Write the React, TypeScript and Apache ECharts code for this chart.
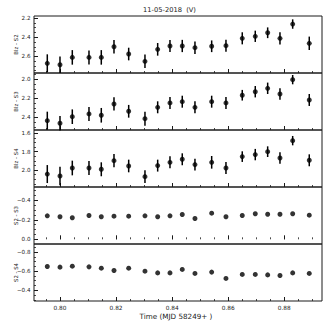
import React, { useEffect, useRef } from "react";
import * as echarts from "echarts";

// ---- data ----
const times = [
  0.79547, 0.8, 0.80439, 0.81034, 0.81473, 0.81926, 0.8245, 0.83031, 0.83484, 0.83923,
  0.84361, 0.84814, 0.8541, 0.8592, 0.86501, 0.86965, 0.87407, 0.87846, 0.88299, 0.88891,
];
const blzS2 = [2.673, 2.688, 2.611, 2.611, 2.611, 2.5, 2.576, 2.652, 2.527, 2.492, 2.492, 2.51, 2.495, 2.489, 2.412, 2.391, 2.354, 2.412, 2.263, 2.464];
const errS2 = [0.094, 0.087, 0.076, 0.073, 0.076, 0.07, 0.066, 0.07, 0.066, 0.063, 0.064, 0.066, 0.061, 0.063, 0.063, 0.059, 0.056, 0.064, 0.049, 0.07];
const blzS3 = [2.436, 2.463, 2.394, 2.365, 2.379, 2.26, 2.337, 2.415, 2.295, 2.249, 2.236, 2.295, 2.236, 2.249, 2.168, 2.131, 2.095, 2.155, 2.004, 2.218];
const errS3 = [0.095, 0.077, 0.077, 0.074, 0.077, 0.07, 0.067, 0.074, 0.063, 0.063, 0.063, 0.063, 0.063, 0.063, 0.056, 0.06, 0.06, 0.06, 0.049, 0.063];
const blzS4 = [2.044, 2.065, 1.978, 1.978, 1.992, 1.898, 1.956, 2.072, 1.952, 1.916, 1.883, 1.941, 1.916, 1.978, 1.854, 1.832, 1.8, 1.869, 1.68, 1.894];
const errS4 = [0.098, 0.1, 0.08, 0.076, 0.076, 0.073, 0.069, 0.069, 0.065, 0.065, 0.065, 0.065, 0.069, 0.065, 0.058, 0.062, 0.058, 0.062, 0.051, 0.065];
const s2s3 = [-0.241, -0.231, -0.221, -0.244, -0.231, -0.237, -0.237, -0.241, -0.231, -0.241, -0.254, -0.213, -0.268, -0.231, -0.244, -0.262, -0.257, -0.257, -0.262, -0.247];
const s2s4 = [-0.649, -0.642, -0.652, -0.645, -0.631, -0.607, -0.631, -0.6, -0.582, -0.582, -0.618, -0.576, -0.59, -0.524, -0.566, -0.566, -0.561, -0.555, -0.582, -0.576];

const panelNames = ["Blz - S2", "Blz - S3", "Blz - S4", "S2 - S3", "S2 - S4"];
const yTicks1 = [2.2, 2.4, 2.6];
const yTicks2 = [2.0, 2.2, 2.4];
const yTicks3 = [1.6, 1.8, 2.0];
const yTicks4 = [-0.4, -0.2, 0.0];
const yTicks5 = [-0.8, -0.6, -0.4];
const xTicks = [0.8, 0.82, 0.84, 0.86, 0.88];

const titleText = "11-05-2018  (V)";
const xName = "Time (MJD 58249+ )";

// ---- layout ----
const FONT = '"DejaVu Sans", sans-serif';
const INK = "#1a1a1a";
const ranges = [
  [2.179, 2.774],
  [1.934, 2.534],
  [1.564, 2.185],
  [-0.536, 0.048],
  [-0.884, -0.288],
];
const xRange = [0.79073, 0.89345];
const tops = [16, 73, 130, 187, 244];
const PANEL_H = 57;

function steps(min: number, max: number, step: number) {
  const out: number[] = [];
  const start = Math.ceil(min / step - 1e-9);
  for (let k = start; k * step <= max + 1e-9; k++) out.push(+(k * step).toFixed(4));
  return out;
}

const fmtY = (v: number) => {
  const s = v.toFixed(1);
  return s.startsWith("-") ? "\u2212" + s.slice(1) : s;
};

export default function App() {
  const ref = useRef<HTMLDivElement>(null);
  useEffect(() => {
    document.body.style.margin = "0";
    if (!ref.current) return;
    const chart = echarts.init(ref.current, undefined, { renderer: "svg" });

    const yVals = [blzS2, blzS3, blzS4, s2s3, s2s4];
    const yErrs: (number[] | null)[] = [errS2, errS3, errS4, null, null];
    const yTicks = [yTicks1, yTicks2, yTicks3, yTicks4, yTicks5];

    const grid = tops.map((t) => ({
      left: 34,
      right: 5,
      top: t,
      height: PANEL_H,
      show: true,
      borderColor: INK,
      borderWidth: 1,
      backgroundColor: "transparent",
    }));

    const xMinor = steps(xRange[0], xRange[1], 0.005);
    const xAxis: any[] = [];
    const yAxis: any[] = [];
    for (let i = 0; i < 5; i++) {
      const last = i === 4;
      xAxis.push({
        gridIndex: i,
        type: "value",
        min: xRange[0],
        max: xRange[1],
        position: "bottom",
        axisLine: { show: false },
        splitLine: { show: false },
        axisTick: { show: true, inside: true, length: 4, customValues: xTicks, lineStyle: { color: INK, width: 1 } },
        axisLabel: {
          show: last,
          customValues: xTicks,
          formatter: (v: number) => v.toFixed(2),
          fontSize: 5.8,
          fontFamily: FONT,
          color: INK,
          margin: 4,
        },
      });
    }
    for (let i = 0; i < 5; i++) {
      xAxis.push({
        gridIndex: i,
        type: "value",
        min: xRange[0],
        max: xRange[1],
        position: "bottom",
        axisLine: { show: false },
        splitLine: { show: false },
        axisLabel: { show: false },
        axisTick: { show: true, inside: true, length: 2, customValues: xMinor, lineStyle: { color: INK, width: 0.8 } },
      });
    }
    for (let i = 0; i < 5; i++) {
      const [mn, mx] = ranges[i];
      yAxis.push({
        gridIndex: i,
        type: "value",
        position: "left",
        inverse: true,
        min: mn,
        max: mx,
        axisLine: { show: false },
        splitLine: { show: false },
        axisTick: { show: true, inside: true, length: 4, customValues: yTicks[i], lineStyle: { color: INK, width: 1 } },
        axisLabel: {
          customValues: yTicks[i],
          formatter: fmtY,
          fontSize: 5.6,
          fontFamily: FONT,
          color: INK,
          margin: 3.5,
        },
      });
    }
    for (let i = 0; i < 5; i++) {
      const [mn, mx] = ranges[i];
      yAxis.push({
        gridIndex: i,
        type: "value",
        position: "left",
        inverse: true,
        min: mn,
        max: mx,
        axisLine: { show: false },
        splitLine: { show: false },
        axisLabel: { show: false },
        axisTick: { show: true, inside: true, length: 2, customValues: steps(mn, mx, 0.05), lineStyle: { color: INK, width: 0.8 } },
      });
    }

    const series: any[] = [];
    for (let i = 0; i < 5; i++) {
      const ys = yVals[i];
      const es = yErrs[i];
      if (es) {
        series.push({
          type: "custom",
          xAxisIndex: i,
          yAxisIndex: i,
          data: times.map((t, k) => [t, ys[k] - es[k], ys[k] + es[k]]),
          encode: { x: 0, y: [1, 2] },
          renderItem: (params: any, api: any) => {
            const x = api.value(0);
            const a = api.coord([x, api.value(1)]);
            const b = api.coord([x, api.value(2)]);
            return {
              type: "line",
              shape: { x1: a[0], y1: a[1], x2: b[0], y2: b[1] },
              style: { stroke: "#000", lineWidth: 1.5 },
            };
          },
          z: 2,
        });
      }
      series.push({
        type: "scatter",
        xAxisIndex: i,
        yAxisIndex: i,
        data: times.map((t, k) => [t, ys[k]]),
        symbol: "circle",
        symbolSize: 5,
        itemStyle: { color: "#000" },
        z: 3,
      });
    }

    const nameTexts = panelNames.map((n, i) => ({
      type: "text",
      x: 15.5,
      y: tops[i] + PANEL_H / 2,
      rotation: Math.PI / 2,
      style: {
        text: n,
        fontSize: 5.4,
        fontFamily: FONT,
        fill: INK,
        textAlign: "center",
        textVerticalAlign: "middle",
      },
    }));

    chart.setOption({
      animation: false,
      backgroundColor: "#fff",
      grid,
      xAxis,
      yAxis,
      series,
      graphic: [
        {
          type: "text",
          x: 169.5,
          y: 9.5,
          style: {
            text: titleText,
            fontSize: 6.7,
            fontFamily: FONT,
            fill: INK,
            textAlign: "center",
            textVerticalAlign: "middle",
          },
        },
        {
          type: "text",
          x: 176,
          y: 316,
          style: {
            text: xName,
            fontSize: 7.2,
            fontFamily: FONT,
            fill: INK,
            textAlign: "center",
            textVerticalAlign: "middle",
          },
        },
        ...nameTexts,
      ],
    });
    return () => chart.dispose();
  }, []);
  return <div ref={ref} style={{ width: 327, height: 327 }} />;
}
